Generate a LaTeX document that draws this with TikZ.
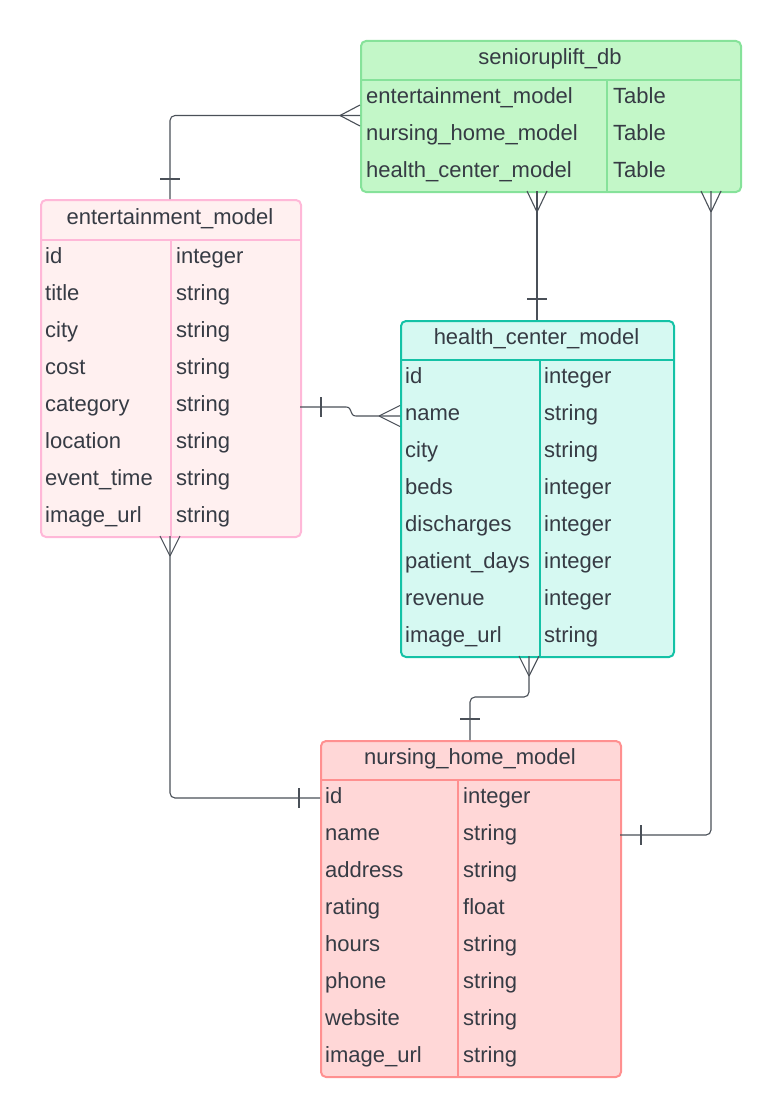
\documentclass[tikz,border=0pt]{standalone}
\usepackage{fontspec}
\setmainfont{Liberation Sans}
\definecolor{txt}{HTML}{363B44}
\definecolor{ln}{HTML}{4A5058}
\definecolor{dbfill}{HTML}{C3F7C8}
\definecolor{dbline}{HTML}{86E29A}
\definecolor{enfill}{HTML}{FFF0F0}
\definecolor{enline}{HTML}{FFB8D8}
\definecolor{hcfill}{HTML}{D6F9F2}
\definecolor{hcline}{HTML}{14C2A6}
\definecolor{nhfill}{HTML}{FFD7D7}
\definecolor{nhline}{HTML}{FF9090}
\begin{document}
\begin{tikzpicture}[x=1pt,y=-1pt,
  tbl/.style={draw, line width=2pt, rounded corners=5pt, inner sep=0pt, anchor=north west},
  sep/.style={line width=2pt},
  ttl/.style={anchor=base, inner sep=0pt, text=txt, font=\fontsize{22}{24}\selectfont},
  cell/.style={anchor=base west, inner sep=0pt, text=txt, font=\fontsize{22}{24}\selectfont},
  conn/.style={draw=ln, line width=1.1pt},
]
\useasboundingbox (0,0) rectangle (780,1116);

% ---------- seniouplift_db ----------
\node[tbl, draw=dbline, fill=dbfill, minimum width=380pt, minimum height=151pt] (db) at (360,40) {};
\draw[dbline, sep] (360,80) -- (740,80);
\draw[dbline, sep] (607,80) -- (607,191);
\node[ttl] (db-t) at (550,64) {senioruplift\_db};
\foreach \n [count=\i] in {entertainment\_model, nursing\_home\_model, health\_center\_model}{
  \node[cell] (db-\i a) at ({366},{103+37*(\i-1)}) {\n};
  \node[cell] (db-\i b) at ({613},{103+37*(\i-1)}) {Table};
}

% ---------- entertainment_model ----------
\node[tbl, draw=enline, fill=enfill, minimum width=260pt, minimum height=337pt] (en) at (40,199) {};
\draw[enline, sep] (40,240) -- (300,240);
\draw[enline, sep] (171,240) -- (171,536);
\node[ttl] (en-t) at (170,224) {entertainment\_model};
\foreach \n/\t [count=\i] in {id/integer, title/string, city/string, cost/string, category/string, location/string, event\_time/string, image\_url/string}{
  \node[cell] (en-\i a) at ({45},{263+37*(\i-1)}) {\n};
  \node[cell] (en-\i b) at ({176},{263+37*(\i-1)}) {\t};
}

% ---------- health_center_model ----------
\node[tbl, draw=hcline, fill=hcfill, minimum width=273pt, minimum height=336pt] (hc) at (400,320) {};
\draw[hcline, sep] (400,360) -- (673,360);
\draw[hcline, sep] (540,360) -- (540,656);
\node[ttl] (hc-t) at (536.5,344) {health\_center\_model};
\foreach \n/\t [count=\i] in {id/integer, name/string, city/string, beds/integer, discharges/integer, patient\_days/integer, revenue/integer, image\_url/string}{
  \node[cell] (hc-\i a) at ({405},{383+37*(\i-1)}) {\n};
  \node[cell] (hc-\i b) at ({544},{383+37*(\i-1)}) {\t};
}

% ---------- nursing_home_model ----------
\node[tbl, draw=nhline, fill=nhfill, minimum width=300pt, minimum height=336pt] (nh) at (320,740) {};
\draw[nhline, sep] (320,780) -- (620,780);
\draw[nhline, sep] (458,780) -- (458,1076);
\node[ttl] (nh-t) at (470,764) {nursing\_home\_model};
\foreach \n/\t [count=\i] in {id/integer, name/string, address/string, rating/float, hours/string, phone/string, website/string, image\_url/string}{
  \node[cell] (nh-\i a) at ({325},{803+37*(\i-1)}) {\n};
  \node[cell] (nh-\i b) at ({463},{803+37*(\i-1)}) {\t};
}

% ---------- connector end points ----------
\coordinate (c1a) at (360,115.5);
\coordinate (c1b) at (170,199);
\coordinate (c2a) at (537,191);
\coordinate (c2b) at (537,320);
\coordinate (c3a) at (711,191);
\coordinate (c3b) at (620,835);
\coordinate (c4a) at (300,407);
\coordinate (c4b) at (400,416);
\coordinate (c5a) at (529,656);
\coordinate (c5b) at (470,740);
\coordinate (c6a) at (170,536);
\coordinate (c6b) at (320,798);

% 1: db -> entertainment
\draw[conn, rounded corners=5pt] (c1a) -| (c1b);
\draw[conn] (c1a) ++(-20,0) -- ++(20,-10.5) ++(-20,10.5) -- ++(20,10.5);
\draw[conn] (c1b) ++(-10,-20) -- ++(20,0);

% 2: db -> health
\draw[conn] (c2a) -- (c2b);
\draw[conn] (c2a) ++(0,21) -- ++(-10,-21) ++(10,21) -- ++(10,-21);
\draw[conn] (c2b) ++(-10,-21) -- ++(20,0);

% 3: db -> nursing
\draw[conn, rounded corners=5pt] (c3a) |- (c3b);
\draw[conn] (c3a) ++(0,21) -- ++(-10,-21) ++(10,21) -- ++(10,-21);
\draw[conn] (c3b) ++(21,-10) -- ++(0,20);

% 4: entertainment -> health
\draw[conn] (c4a) -- (346,407) .. controls (353,407) and (349,416) .. (356,416) -- (c4b);
\draw[conn] (c4a) ++(21,-10) -- ++(0,20);
\draw[conn] (c4b) ++(-21,0) -- ++(21,-10.5) ++(-21,10.5) -- ++(21,10.5);

% 5: health -> nursing
\draw[conn, rounded corners=5pt] (c5a) -- (529,697) -- (470,697) -- (c5b);
\draw[conn] (c5a) ++(0,20) -- ++(-10,-20) ++(10,20) -- ++(10,-20);
\draw[conn] (c5b) ++(-10,-21) -- ++(20,0);

% 6: entertainment -> nursing
\draw[conn, rounded corners=5pt] (c6a) |- (c6b);
\draw[conn] (c6a) ++(0,20) -- ++(-10,-20) ++(10,20) -- ++(10,-20);
\draw[conn] (c6b) ++(-21,-10) -- ++(0,20);
\end{tikzpicture}
\end{document}
